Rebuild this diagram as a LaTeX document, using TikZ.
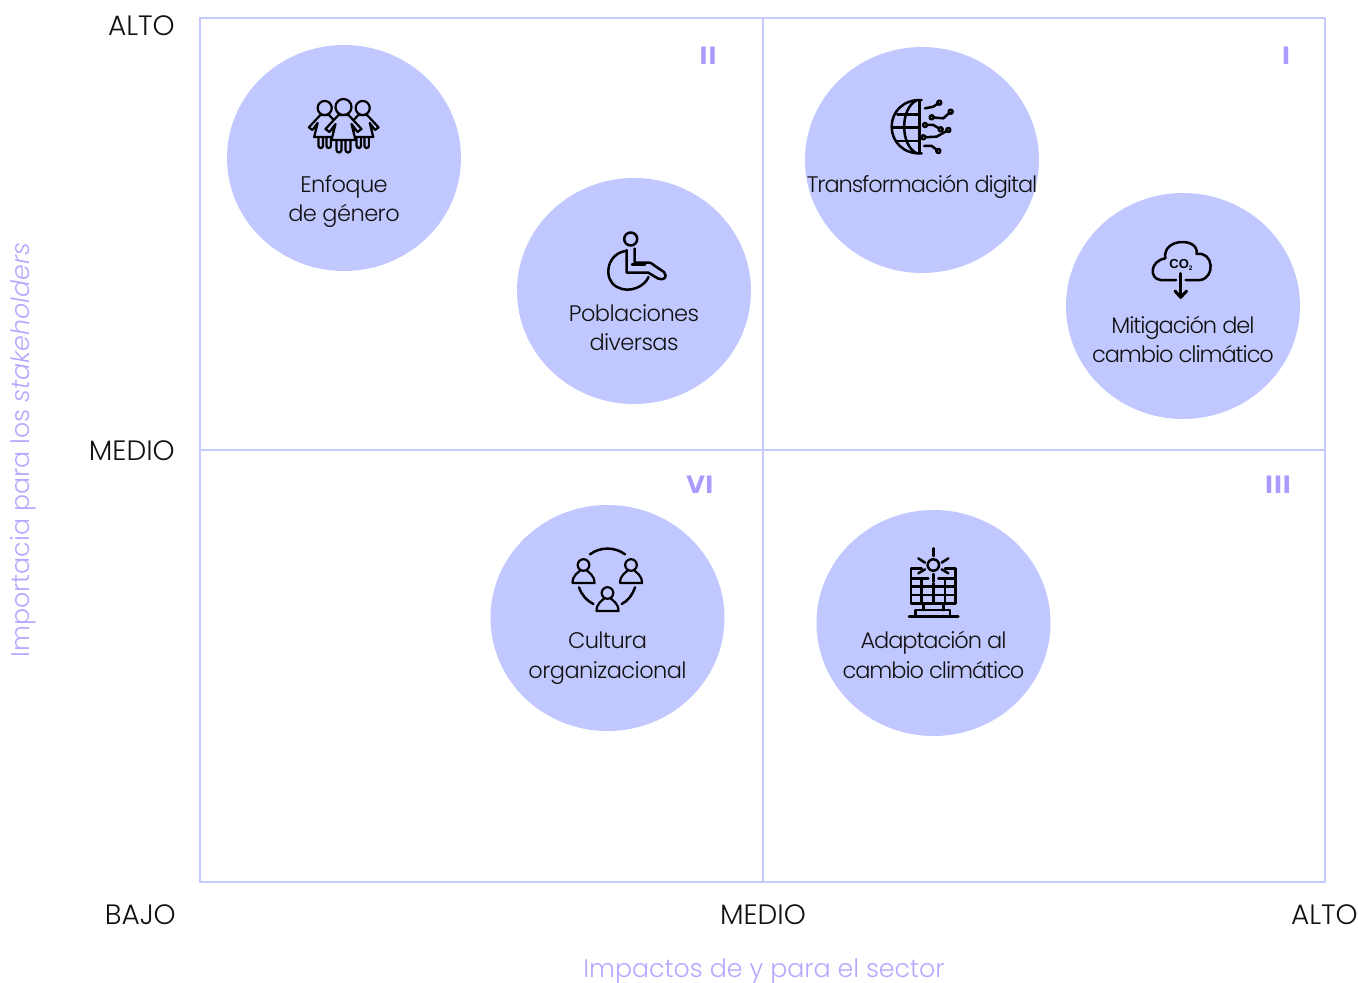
\documentclass[tikz,border=0pt]{standalone}
\usepackage{fontspec}
\usetikzlibrary{shapes.geometric}
\setmainfont{Liberation Sans}
\newfontfamily\thinfont[ItalicFont={Poppins Light Italic}]{Poppins Light}
\newfontfamily\labelfont[LetterSpace=-2.5]{Poppins Light}
\newfontfamily\tightfont[LetterSpace=-4.7]{Poppins Light}
\newfontfamily\heavyfont{DejaVu Sans Bold}
\definecolor{blob}{HTML}{C1C7FF}
\definecolor{frame}{HTML}{C5CAFF}
\definecolor{axis}{HTML}{B3A9FF}
\definecolor{roman}{HTML}{A99CFF}
\definecolor{ink}{HTML}{111111}
\tikzset{
  x=1pt,y=-1pt,
  blobnode/.style={ellipse,fill=blob,inner sep=0pt,minimum width=234pt,minimum height=226pt},
  label/.style={font=\labelfont\fontsize{22.5}{29.5}\selectfont,text=ink,align=center,inner sep=0pt},
  tight label/.style={label,font=\tightfont\fontsize{22.5}{29.5}\selectfont},
  tick/.style={font=\thinfont\fontsize{28}{30}\selectfont,text=ink,inner sep=0pt},
  numeral/.style={font=\heavyfont\fontsize{24}{30}\selectfont,text=roman,inner sep=0pt},
  axislabel/.style={font=\thinfont\fontsize{25.3}{30}\selectfont,text=axis,inner sep=0pt},
  gridline/.style={draw=frame,line width=2pt},
  icon/.style={draw=black,line width=2.5pt,line cap=round,line join=round},
  thin icon/.style={draw=black,line width=2.2pt,line cap=round,line join=round},
}
\newcommand{\girlicon}[3]{%
  \begin{scope}[shift={(#1,#2)},x=#3pt,y=-#3pt]
    \draw[thin icon,fill=blob] (-7,33)--(-7,43) arc[start angle=180,end angle=0,x radius=2.5,y radius=2.5]--(-2,33);
    \draw[thin icon,fill=blob] (2,33)--(2,43) arc[start angle=180,end angle=0,x radius=2.5,y radius=2.5]--(7,33);
    \draw[thin icon,fill=blob] (-5,8)--(-18,22)--(-14,25)--(-8,17)--(-12,33)--(12,33)--(8,17)--(14,25)--(18,22)--(5,8)--cycle;
    \draw[thin icon,fill=blob] (0,0) circle[radius=8];
  \end{scope}}
\newcommand{\personicon}[2]{%
  \begin{scope}[shift={(#1,#2)}]
    \draw[thin icon] (0,0) circle[radius=5.8];
    \draw[thin icon] (-11,18)--(11,18) .. controls (11,10) and (5,7.5) .. (3,5.2)
       (-3,5.2) .. controls (-5,7.5) and (-11,10) .. (-11,18);
  \end{scope}}
\begin{document}
\begin{tikzpicture}
\useasboundingbox (0,0) rectangle (1358,983);
% blobs
\node[blobnode] (b1) at (344,158) {};
\node[blobnode] (b2) at (634,291) {};
\node[blobnode] (b3) at (922,160) {};
\node[blobnode] (b4) at (1183,306) {};
\node[blobnode] (b5) at (607.5,618) {};
\node[blobnode] (b6) at (933.5,623) {};
% grid
\draw[gridline] (200,18) rectangle (1325,882);
\draw[gridline] (763,18)--(763,882);
\draw[gridline] (200,450)--(1325,450);
% ticks
\node[tick,anchor=east] (t1) at (175,26) {ALTO};
\node[tick,anchor=east] (t2) at (175,451) {MEDIO};
\node[tick,anchor=east] (t3) at (176,915) {BAJO};
\node[tick] (t4) at (763,915) {MEDIO};
\node[tick,anchor=east] (t5) at (1358,915) {ALTO};
\node[axislabel] (ax) at (764,971) {Impactos de y para el sector};
\node[axislabel,rotate=90] (ay) at (23,450) {Importacia para los \textit{stakeholders}};
% numerals
\node[numeral] (n2) at (708,56) {II};
\node[numeral] (n1) at (1286,56) {I};
\node[numeral] (n6) at (700,485) {VI};
\node[numeral] (n3) at (1278,485) {III};
% labels
\node[label] (l1) at (344,201.5) {Enfoque\\de género};
\node[label] (l2) at (634,327.5) {Poblaciones\\diversas};
\node[tight label] (l3) at (922,187) {Transformación digital};
\node[tight label] (l4) at (1183,339.5) {Mitigación del\\cambio climático};
\node[label] (l5) at (607.5,658) {Cultura\\organizacional};
\node[tight label] (l6) at (933.5,655) {Adaptación al\\cambio climático};
% girls icon
\girlicon{324.7}{108}{0.88}
\girlicon{362.7}{108}{0.88}
\girlicon{343.5}{107}{1}
% wheelchair icon
\begin{scope}[icon]
  \draw (630.7,239) circle[radius=6.5];
  \draw (625.5,251) .. controls (606,254) and (603,280) .. (617,287) .. controls (630,294) and (645,286) .. (648.5,277);
  \draw (634.5,248.5)--(634.5,262.5)--(647,262.5) .. controls (652,262.5) and (652,264) .. (655,266)
     --(664,272) .. controls (668,277) and (664,281) .. (658,278.5) --(648,272.5)--(626.5,272.5)--(626.5,250);
  \draw (632,264.5)--(645,264.5);
\end{scope}
% globe icon
\begin{scope}[shift={(880,90)},x=0.3333pt,y=-0.3333pt,icon]
  \draw (125,30) .. controls (70,28) and (35,65) .. (35,110) .. controls (35,155) and (70,193) .. (125,190);
  \draw (110,31) .. controls (60,55) and (60,165) .. (110,190);
  \draw (118,32)--(118,190);
  \draw (52,73)--(118,73) (36,113)--(118,113) (52,153)--(118,153);
  \draw (135,55)--(160,50)--(178,38);
  \draw (155,82)--(190,85)--(212,65);
  \draw (135,105)--(160,105)--(182,118);
  \draw (130,142)--(170,140)--(205,120);
  \draw (132,168)--(155,168)--(175,183);
  \foreach \px/\py in {178/38,155/82,212/65,135/105,182/118,130/142,205/120,175/183}
    \draw[fill=blob] (\px,\py) circle[radius=2pt];
\end{scope}
% cloud icon
\begin{scope}[shift={(1140,235)},x=0.3333pt,y=-0.3333pt,icon]
  \draw (108,135)--(62,135) .. controls (28,132) and (28,78) .. (76,70)
     .. controls (66,8) and (178,6) .. (170,57)
     .. controls (222,48) and (226,130) .. (180,135)--(137,135);
  \draw (122,115)--(122,186);
  \draw[line width=3pt] (105,168)--(122,187)--(140,168);
\end{scope}
\node[inner sep=0pt,font=\bfseries\fontsize{13}{16}\selectfont,text=black] (co) at (1181,265) {CO\raisebox{-1.5pt}{\fontsize{6.5}{7}\selectfont 2}};
% people icon
\begin{scope}[shift={(565,540)},x=0.3333pt,y=-0.3333pt,icon]
  \draw (75,43) .. controls (105,20) and (150,20) .. (180,43);
  \draw (42,142) .. controls (50,165) and (65,182) .. (85,192);
  \draw (210,142) .. controls (202,165) and (190,182) .. (170,192);
\end{scope}
\personicon{583.5}{565}
\personicon{631}{565}
\personicon{607.5}{593}
% solar icon
\begin{scope}[shift={(895,540)},x=0.3333pt,y=-0.3333pt,icon]
  \draw (115,75) circle[radius=5.7pt];
  \draw (115,25)--(115,48) (115,102)--(115,125);
  \draw (70,55)--(90,68) (160,55)--(140,68) (70,100)--(90,88) (160,100)--(140,88);
  \draw (80,85)--(48,85)--(48,190)--(182,190)--(182,85)--(150,85);
  \draw (48,115)--(100,115) (130,115)--(182,115);
  \draw (48,140)--(182,140) (48,165)--(182,165);
  \draw (80,115)--(80,190) (115,130)--(115,190) (150,115)--(150,190);
  \draw (85,190)--(85,210) (145,190)--(145,210);
  \draw (62,230)--(62,210)--(165,210)--(165,230);
  \draw (42,230)--(190,230);
\end{scope}
\end{tikzpicture}
\end{document}
